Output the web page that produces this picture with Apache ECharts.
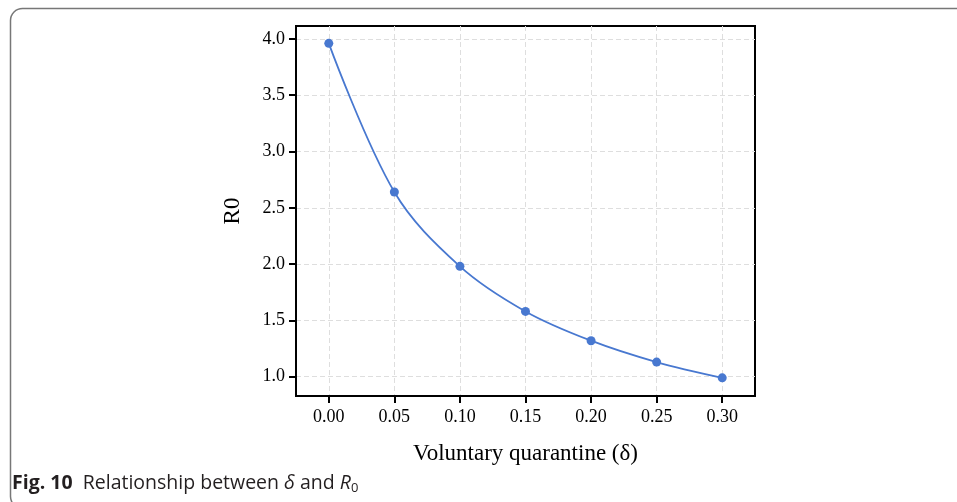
<!DOCTYPE html>
<head>
    <meta charset="utf-8"/>
    <style>
        html,body { height:100%; width:100%; margin:0; padding:0; background:#fff;}
    </style>
</head>
<body>

<div id="chart" style="width: 957px;height:502px"></div>

<script src="https://cdn.jsdelivr.net/npm/echarts@6/dist/echarts.min.js"></script>
<script type="text/javascript">

 // data
 var deltaValues = [0, 0.05, 0.10, 0.15, 0.20, 0.25, 0.30];
 var r0Values = [3.96, 2.64, 1.98, 1.58, 1.32, 1.13, 0.99];
 var xTicks = [0, 0.05, 0.10, 0.15, 0.20, 0.25, 0.30];
 var yTicks = [1.0, 1.5, 2.0, 2.5, 3.0, 3.5, 4.0];

 var serif = '"Liberation Serif", "Times New Roman", serif';
 var lineColor = '#4878d0';

 var points = deltaValues.map(function (d, i) { return [d, r0Values[i]]; });

 var myChart = echarts.init(document.getElementById('chart'));

 var option = {
    animation: false,
    grid: {
        left: 296,
        right: 202,
        top: 26,
        bottom: 106,
        show: true,
        borderColor: '#000',
        borderWidth: 2
    },
    xAxis: {
        type: 'value',
        position: 'bottom',
        min: -0.025,
        max: 0.325,
        name: 'Voluntary quarantine (δ)',
        nameLocation: 'middle',
        nameGap: 46,
        nameTextStyle: { fontFamily: serif, fontSize: 23, color: '#000' },
        axisLine: { show: true, onZero: false, lineStyle: { color: '#000', width: 2 } },
        axisTick: {
            show: true, inside: false, length: 7, customValues: xTicks,
            lineStyle: { color: '#000', width: 2 }
        },
        axisLabel: {
            customValues: xTicks, margin: 12,
            fontFamily: serif, fontSize: 18, color: '#000',
            formatter: function (v) { return v.toFixed(2); }
        },
        splitLine: { show: true, lineStyle: { color: '#dedede', type: [5, 3], width: 1 } }
    },
    yAxis: {
        type: 'value',
        position: 'left',
        min: 0.829,
        max: 4.114,
        name: 'R0',
        nameLocation: 'middle',
        nameGap: 52,
        nameTextStyle: { fontFamily: serif, fontSize: 23, color: '#000' },
        axisLine: { show: true, onZero: false, lineStyle: { color: '#000', width: 2 } },
        axisTick: {
            show: true, inside: false, length: 7, customValues: yTicks,
            lineStyle: { color: '#000', width: 2 }
        },
        axisLabel: {
            customValues: yTicks, margin: 11,
            fontFamily: serif, fontSize: 18, color: '#000',
            formatter: function (v) { return v.toFixed(1); }
        },
        splitLine: { show: true, lineStyle: { color: '#dedede', type: [5, 3], width: 1 } }
    },
    series: [
        {
            type: 'line',
            data: points,
            smooth: 0.35,
            symbol: 'circle',
            symbolSize: 9,
            itemStyle: { color: lineColor },
            lineStyle: { color: lineColor, width: 1.8 }
        }
    ],
    graphic: [
        {
            type: 'rect',
            shape: { x: 10.5, y: 8.5, width: 1000, height: 500, r: 12 },
            style: { fill: 'none', stroke: '#777', lineWidth: 1.5 },
            silent: true
        },
        {
            type: 'text',
            left: 12,
            top: 472,
            style: {
                text: '{b|Fig. 10}  Relationship between {i|δ} and {i|R}{s|0}',
                font: '19.5px "Open Sans", "Noto Sans", sans-serif',
                fill: '#231f20',
                rich: {
                    b: { fontWeight: 'bold', fontSize: 19.5, fontFamily: '"Open Sans", sans-serif', fill: '#231f20', lineHeight: 24 },
                    i: { fontStyle: 'italic', fontSize: 19.5, fontFamily: '"Open Sans", sans-serif', fill: '#231f20', lineHeight: 24 },
                    s: { fontSize: 13, fontFamily: '"Open Sans", sans-serif', fill: '#231f20', padding: [10, 0, 0, 0], lineHeight: 24 }
                }
            }
        }
    ]
 };

 myChart.setOption(option);
</script>
</body>
